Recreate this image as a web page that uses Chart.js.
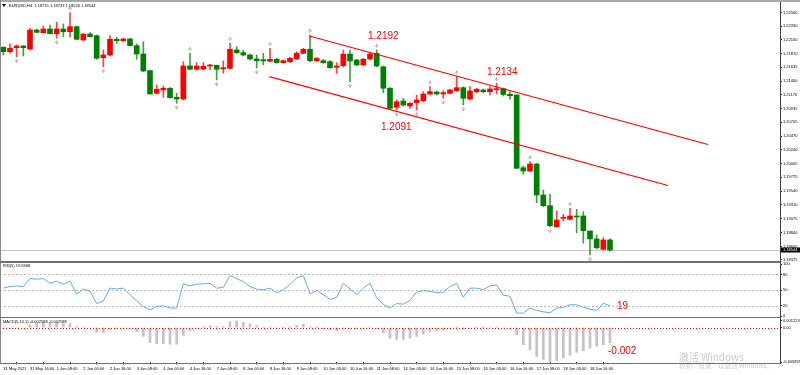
<!DOCTYPE html>
<html>
<head>
<meta charset="utf-8">
<title>EURUSD,H4</title>
<script src="https://cdn.jsdelivr.net/npm/chart.js@4.4.1/dist/chart.umd.min.js"></script>
<style>
  html, body { margin: 0; padding: 0; background: #ffffff; }
  #wrap { position: relative; width: 800px; height: 375px; overflow: hidden; background: #ffffff; }
  #wrap canvas { position: absolute; left: 0; }
  .sep { position: absolute; background: #707070; }
</style>
</head>
<body>
<div id="wrap">
  <canvas id="priceChart" width="800" height="262" style="top:0px"></canvas>
  <canvas id="rsiChart" width="800" height="56" style="top:262px"></canvas>
  <canvas id="macdChart" width="800" height="57" style="top:318px"></canvas>
  <div class="sep" style="left:0;top:0;width:800px;height:2px;background:#a8a8a8"></div>
  <div class="sep" style="left:0;top:0;width:1px;height:364px;background:#8a8a8a"></div>
  <div class="sep" style="left:0;top:261px;width:781px;height:2px"></div>
  <div class="sep" style="left:0;top:317px;width:781px;height:1px"></div>
  <div class="sep" style="left:0;top:363px;width:781px;height:1px"></div>
  <div class="sep" style="left:780px;top:2px;width:1px;height:362px;background:#404040"></div>
</div>
<script>
const FONT = "'Liberation Sans', Arial, sans-serif";

// K线 (H4)
const opens = [1.21975,1.21900,1.21968,1.21997,1.21946,1.22267,1.22222,1.22284,1.22205,1.22284,
  1.22239,1.22323,1.22098,1.22200,1.22171,1.21799,1.21844,1.22110,1.22086,1.22115,
  1.22002,1.21861,1.21579,1.21196,1.21252,1.21281,1.21129,1.21100,1.21658,1.21602,
  1.21607,1.21658,1.21670,1.21612,1.21619,1.21929,1.21883,1.21844,1.21777,1.21765,
  1.21738,1.21771,1.21714,1.21731,1.21777,1.21873,1.21941,1.21748,1.21748,1.21731,
  1.21636,1.21663,1.21861,1.21760,1.21675,1.21777,1.21873,1.21646,1.21281,1.20959,
  1.21066,1.20981,1.21037,1.21071,1.21184,1.21218,1.21184,1.21196,1.21240,1.21291,
  1.21100,1.21223,1.21252,1.21223,1.21257,1.21274,1.21179,1.21167,1.19937,1.19881,
  1.19999,1.19475,1.19294,1.18938,1.19081,1.19064,1.19120,1.19120,1.18866,1.18731,
  1.18556,1.18715];
const highs = [1.21985,1.22031,1.22014,1.22002,1.22296,1.22279,1.22335,1.22352,1.22398,1.22369,
  1.22560,1.22335,1.22211,1.22222,1.22183,1.21929,1.22171,1.22144,1.22127,1.22127,
  1.22031,1.22069,1.21590,1.21337,1.21320,1.21291,1.21196,1.21731,1.21873,1.21714,
  1.21714,1.21687,1.21672,1.21743,1.22042,1.21985,1.21929,1.21861,1.21844,1.21873,
  1.21958,1.21788,1.21760,1.21805,1.21900,1.21958,1.22183,1.21805,1.21771,1.21748,
  1.21714,1.21929,1.21929,1.21771,1.21788,1.21883,1.21929,1.21658,1.21291,1.21083,
  1.21111,1.21037,1.21167,1.21223,1.21308,1.21235,1.21240,1.21264,1.21477,1.21308,
  1.21308,1.21281,1.21269,1.21308,1.21365,1.21286,1.21223,1.21170,1.19966,1.20039,
  1.20011,1.19559,1.19487,1.19209,1.19148,1.19250,1.19233,1.19192,1.18866,1.18798,
  1.18753,1.18733];
const lows = [1.21844,1.21873,1.21816,1.21828,1.21929,1.22222,1.22218,1.22200,1.22127,1.22154,
  1.22144,1.22098,1.22086,1.22150,1.21771,1.21646,1.21828,1.22042,1.22069,1.21997,
  1.21771,1.21562,1.21179,1.21184,1.21129,1.21112,1.21027,1.21083,1.21590,1.21590,
  1.21590,1.21590,1.21421,1.21535,1.21607,1.21873,1.21828,1.21760,1.21624,1.21675,
  1.21731,1.21704,1.21704,1.21714,1.21771,1.21861,1.21731,1.21731,1.21704,1.21619,
  1.21535,1.21641,1.21392,1.21663,1.21663,1.21760,1.21646,1.21206,1.20925,1.20913,
  1.20981,1.20942,1.20913,1.21054,1.21167,1.21167,1.21111,1.21184,1.21223,1.20998,
  1.21083,1.21206,1.21206,1.21167,1.21184,1.21150,1.21095,1.19924,1.19825,1.19869,
  1.19345,1.19277,1.18938,1.18928,1.19040,1.19052,1.18837,1.18658,1.18460,1.18561,
  1.18544,1.18526];
const closes = [1.21900,1.21958,1.21997,1.21968,1.22267,1.22228,1.22284,1.22205,1.22284,1.22239,
  1.22323,1.22110,1.22194,1.22154,1.21788,1.21844,1.22110,1.22086,1.22115,1.22002,
  1.21861,1.21573,1.21184,1.21264,1.21281,1.21122,1.21100,1.21658,1.21602,1.21658,
  1.21652,1.21675,1.21602,1.21629,1.21941,1.21883,1.21844,1.21777,1.21748,1.21743,
  1.21771,1.21714,1.21748,1.21788,1.21873,1.21941,1.21748,1.21788,1.21714,1.21629,
  1.21658,1.21856,1.21743,1.21675,1.21771,1.21861,1.21658,1.21281,1.20942,1.21054,
  1.20998,1.21027,1.21083,1.21184,1.21223,1.21184,1.21206,1.21252,1.21291,1.21111,
  1.21235,1.21264,1.21223,1.21269,1.21269,1.21176,1.21155,1.19927,1.19881,1.19999,
  1.19475,1.19294,1.18955,1.19052,1.19098,1.19120,1.19103,1.18871,1.18731,1.18583,
  1.18714,1.18544];

// RSI(5)
const rsiValues = [53.6,56.6,57.9,56.6,72,70.8,72,62.8,67,61,
  67,42.5,51.7,47.4,24,29,53.6,52,53.6,41,
  29,18,11.7,18.5,19.5,15.4,15,62,58,61,
  62,62.5,53.6,55,78,72,66,56.6,51.7,50.5,
  53.6,44.3,50.5,61,73,78,42.5,49,41,32,
  36,62.8,52,41,53.6,62.8,35,22,15.4,24,
  22.8,30,46,48.6,47.4,45,46,56.6,62.8,36,
  53.6,53.6,50.5,57.9,59.7,40,38,5.6,5.6,15.4,
  10.5,8,6.2,15.4,16.7,21.6,21.6,16.7,13,10.5,
  24.6,19.7];

// MACD(5,10,1)
const macdValues = [-0.0002,-0.0002,-0.0001,-0.0001,0.0005,0.0008,0.0009,0.0008,0.0008,0.0007,
  0.0007,0.0002,0.0001,-0.0001,-0.0008,-0.0009,-0.0003,-0.0002,-0.0001,-0.0003,
  -0.0007,-0.0015,-0.0025,-0.0027,-0.0027,-0.0028,-0.0028,-0.0013,-0.0005,-0.0001,
  0.0002,0.0003,0.0002,0.0002,0.0010,0.00122,0.0009,0.0006,0.0003,0.0001,
  0.0001,-0.0001,0.00005,0.0002,0.0004,0.0006,0.0002,0.00005,-0.0002,-0.0004,
  -0.0005,-0.0001,-0.0001,-0.0002,-0.0001,0.0001,-0.0002,-0.0009,-0.0018,-0.0020,
  -0.0020,-0.0018,-0.0015,-0.0011,-0.0007,-0.0005,-0.0004,-0.0002,0.00005,-0.0002,
  -0.0001,0.00005,0.00005,0.0001,0.0001,-0.0001,-0.0002,-0.0012,-0.0029,-0.0038,
  -0.0049,-0.0054,-0.00589,-0.0056,-0.0051,-0.0047,-0.0042,-0.0039,-0.0035,-0.0032,
  -0.0029,-0.002588];

// 坐标轴
const priceMin = 1.18358;
const priceMax = 1.2269;
const priceTicks = [1.22560,1.22330,1.22100,1.21870,1.21635,1.21400,1.21170,1.20935,1.20705,1.20470,
  1.20240,1.20005,1.19775,1.19540,1.19310,1.19075,1.18840,1.18605,1.18375];
const rsiTicks = [0, 20, 50, 80, 100];
const rsiLevels = [20, 50, 80];
const macdMin = -0.005895;
const macdMax = 0.001223;
const macdTicks = [-0.005895, 0, 0.001223];
const macdTickLabels = ['-0.005895', '0.00', '0.001223'];
const timeTickIndex = [0,4,8,12,16,20,24,28,32,36,40,44,48,52,56,60,64,68,72,76,80,84,88];
const timeLabels = ['31 May 2021','31 May 16:00','1 Jun 08:00','2 Jun 00:00','2 Jun 16:00','3 Jun 08:00',
  '4 Jun 00:00','4 Jun 16:00','7 Jun 08:00','8 Jun 00:00','8 Jun 16:00','9 Jun 08:00','10 Jun 00:00',
  '10 Jun 16:00','11 Jun 08:00','14 Jun 00:00','14 Jun 16:00','15 Jun 08:00','16 Jun 00:00',
  '16 Jun 16:00','17 Jun 08:00','18 Jun 00:00','18 Jun 16:00'];

// 分形, 通道线, 标注
const fractalUp = [10, 28, 34, 40, 46, 56, 64, 68, 74, 79, 85];
const fractalDown = [2, 8, 15, 26, 32, 38, 52, 59, 62, 66, 69, 82, 88];
const upperLineX = [45.9, 105.7];
const upperLineY = [1.22166, 1.20330];
const lowerLineX = [39.9, 99.7];
const lowerLineY = [1.21477, 1.19636];
const noteTexts = ['1.2192', '1.2134', '1.2091'];
const noteX = [54.7, 72.55, 56.65];
const noteY = [1.22166, 1.21557, 1.20626];

const idx = opens.map((o, i) => i);
const candleColors = idx.map(i => closes[i] >= opens[i] ? '#ff0000' : '#008000');
const wickColors = idx.map(i => closes[i] >= opens[i] ? 'rgba(255,0,0,0.75)' : 'rgba(0,128,0,0.75)');

function xAxis(show) {
  return {
    type: 'linear', min: -0.5, max: 116.5, display: show, offset: false
  };
}

function rightAxis(min, max, list, fmt) {
  return {
    position: 'right', min: min, max: max,
    afterFit(scale) { scale.width = 20; scale.paddingTop = 0; scale.paddingBottom = 0; },
    afterBuildTicks(scale) { scale.ticks = list.map(v => ({ value: v })); },
    ticks: { font: { family: FONT, size: 4 }, color: '#000', padding: 1, autoSkip: false, callback: fmt },
    grid: { drawOnChartArea: false, drawTicks: true, tickLength: 2, tickColor: '#000', tickWidth: 0.8 },
    border: { display: false }
  };
}

function baseOptions() {
  return {
    responsive: false, animation: false, events: [],
    plugins: { legend: { display: false }, tooltip: { enabled: false } }
  };
}

function drawArrow(ctx, x, y, up) {
  const d = up ? 1 : -1;
  ctx.beginPath();
  ctx.moveTo(x - 1.8, y + 0.8 * d);
  ctx.lineTo(x, y - 1.8 * d);
  ctx.lineTo(x + 1.8, y + 0.8 * d);
  ctx.moveTo(x, y - 1.8 * d);
  ctx.lineTo(x, y + 2 * d);
  ctx.stroke();
}

// 主图叠加: 现价线, 分形, 标注, 标题
const priceOverlay = {
  id: 'priceOverlay',
  beforeDatasetsDraw(chart) {
    const { ctx, chartArea, scales } = chart;
    const y = Math.round(scales.y.getPixelForValue(closes[closes.length - 1])) + 0.5;
    ctx.save();
    ctx.strokeStyle = '#c8c8c8';
    ctx.lineWidth = 1;
    ctx.beginPath();
    ctx.moveTo(chartArea.left, y);
    ctx.lineTo(chartArea.right, y);
    ctx.stroke();
    ctx.restore();
  },
  afterDraw(chart) {
    const { ctx, chartArea, scales } = chart;
    ctx.save();
    ctx.strokeStyle = '#a6a6a6';
    ctx.lineWidth = 0.8;
    fractalUp.forEach(i => drawArrow(ctx, scales.x.getPixelForValue(i), scales.y.getPixelForValue(highs[i]) - 4, true));
    fractalDown.forEach(i => drawArrow(ctx, scales.x.getPixelForValue(i), scales.y.getPixelForValue(lows[i]) + 4, false));

    ctx.fillStyle = '#ff0000';
    ctx.font = '10px ' + FONT;
    ctx.textAlign = 'left';
    ctx.textBaseline = 'middle';
    noteTexts.forEach((t, k) => ctx.fillText(t, scales.x.getPixelForValue(noteX[k]), scales.y.getPixelForValue(noteY[k])));

    // 标题
    ctx.fillStyle = '#000';
    ctx.beginPath();
    ctx.moveTo(2, 4); ctx.lineTo(6, 4); ctx.lineTo(4, 7); ctx.closePath();
    ctx.fill();
    ctx.font = '4px ' + FONT;
    ctx.fillText('EURUSD,H4  1.18715 1.18733 1.18526 1.18544', 9, 5.5);

    // 现价标签
    const last = closes[closes.length - 1];
    const y = scales.y.getPixelForValue(last);
    ctx.fillStyle = '#000';
    ctx.fillRect(chartArea.right + 1, y - 2.5, 19, 5);
    ctx.fillStyle = '#fff';
    ctx.fillText(last.toFixed(5), chartArea.right + 3, y);
    ctx.restore();
  }
};

new Chart(document.getElementById('priceChart'), {
  type: 'bar',
  data: {
    datasets: [
      {
        label: 'wick', order: 2, grouped: false, barThickness: 1,
        data: idx.map(i => ({ x: i, y: [lows[i], highs[i]] })),
        backgroundColor: wickColors
      },
      {
        label: 'body', order: 1, grouped: false, barThickness: 5, minBarLength: 1,
        data: idx.map(i => ({ x: i, y: [opens[i], closes[i]] })),
        backgroundColor: candleColors
      },
      {
        type: 'line', label: 'upper', order: 0,
        data: upperLineX.map((x, k) => ({ x: x, y: upperLineY[k] })),
        borderColor: '#ff0000', borderWidth: 1.2, pointRadius: 0
      },
      {
        type: 'line', label: 'lower', order: 0,
        data: lowerLineX.map((x, k) => ({ x: x, y: lowerLineY[k] })),
        borderColor: '#ff0000', borderWidth: 1.2, pointRadius: 0
      }
    ]
  },
  options: Object.assign(baseOptions(), {
    layout: { padding: { top: 5, bottom: 1, left: 0, right: 0 } },
    scales: {
      x: xAxis(false),
      y: rightAxis(priceMin, priceMax, priceTicks, v => v.toFixed(5))
    }
  }),
  plugins: [priceOverlay]
});

// RSI 副图
const rsiOverlay = {
  id: 'rsiOverlay',
  beforeDatasetsDraw(chart) {
    const { ctx, chartArea, scales } = chart;
    ctx.save();
    ctx.strokeStyle = '#bdbdbd';
    ctx.lineWidth = 1;
    ctx.setLineDash([2, 2]);
    rsiLevels.forEach(v => {
      const y = Math.round(scales.y.getPixelForValue(v)) + 0.5;
      ctx.beginPath();
      ctx.moveTo(chartArea.left, y);
      ctx.lineTo(chartArea.right, y);
      ctx.stroke();
    });
    ctx.restore();
  },
  afterDraw(chart) {
    const { ctx, scales } = chart;
    ctx.save();
    ctx.textAlign = 'left';
    ctx.textBaseline = 'middle';
    ctx.fillStyle = '#000';
    ctx.font = '4px ' + FONT;
    ctx.fillText('RSI(5) 19.6968', 3, 4);
    ctx.fillStyle = '#ff0000';
    ctx.font = '10px ' + FONT;
    ctx.fillText('19', scales.x.getPixelForValue(92.05), scales.y.getPixelForValue(19.7));
    ctx.restore();
  }
};

new Chart(document.getElementById('rsiChart'), {
  type: 'line',
  data: {
    datasets: [{
      label: 'RSI',
      data: idx.map(i => ({ x: i, y: rsiValues[i] })),
      borderColor: '#64aaf0', borderWidth: 1, pointRadius: 0, tension: 0
    }]
  },
  options: Object.assign(baseOptions(), {
    layout: { padding: { top: 2, bottom: 2, left: 0, right: 0 } },
    scales: {
      x: xAxis(false),
      y: rightAxis(0, 100, rsiTicks, v => String(v))
    }
  }),
  plugins: [rsiOverlay]
});

// MACD 副图
const macdOverlay = {
  id: 'macdOverlay',
  afterDatasetsDraw(chart) {
    const { ctx, chartArea, scales } = chart;
    const y = Math.round(scales.y.getPixelForValue(0)) + 0.5;
    ctx.save();
    ctx.strokeStyle = '#ff0000';
    ctx.lineWidth = 1;
    ctx.setLineDash([1, 2]);
    ctx.beginPath();
    ctx.moveTo(chartArea.left, y);
    ctx.lineTo(chartArea.right, y);
    ctx.stroke();
    ctx.restore();
  },
  afterDraw(chart) {
    const { ctx, scales } = chart;
    ctx.save();
    ctx.textAlign = 'left';
    ctx.textBaseline = 'middle';
    ctx.fillStyle = '#000';
    ctx.font = '4px ' + FONT;
    ctx.fillText('MACD(5,10,1) -0.002588 -0.002588', 3, 3.5);
    ctx.fillStyle = '#ff0000';
    ctx.font = '10px ' + FONT;
    ctx.fillText('-0.002', scales.x.getPixelForValue(90.7), scales.y.getPixelForValue(-0.00405));
    // 系统水印
    ctx.fillStyle = 'rgba(150,150,150,0.5)';
    ctx.font = "10px 'Noto Sans CJK SC', " + FONT;
    ctx.fillText('激活 Windows', 679, 39);
    ctx.font = "6.5px 'Noto Sans CJK SC', " + FONT;
    ctx.fillText('转到“设置”以激活 Windows。', 679, 48);
    ctx.restore();
  }
};

new Chart(document.getElementById('macdChart'), {
  type: 'bar',
  data: {
    datasets: [{
      label: 'MACD', barThickness: 2,
      data: idx.map(i => ({ x: i, y: macdValues[i] })),
      backgroundColor: '#c4c4c4'
    }]
  },
  options: Object.assign(baseOptions(), {
    layout: { padding: { top: 2.5, bottom: 0, left: 0, right: 0 } },
    scales: {
      x: Object.assign(xAxis(true), {
        afterFit(scale) { scale.height = 12.7; scale.paddingLeft = 0; scale.paddingRight = 0; },
        afterBuildTicks(scale) { scale.ticks = timeTickIndex.map(v => ({ value: v })); },
        ticks: {
          font: { family: FONT, size: 4 }, color: '#000', padding: 2, align: 'start',
          autoSkip: false, maxRotation: 0, minRotation: 0,
          callback: (v, k) => timeLabels[k]
        },
        grid: { drawOnChartArea: false, drawTicks: true, tickLength: 2, tickColor: '#000', tickWidth: 0.8 },
        border: { display: false }
      }),
      y: rightAxis(macdMin, macdMax, macdTicks, (v, k) => macdTickLabels[k])
    }
  }),
  plugins: [macdOverlay]
});
</script>
</body>
</html>
